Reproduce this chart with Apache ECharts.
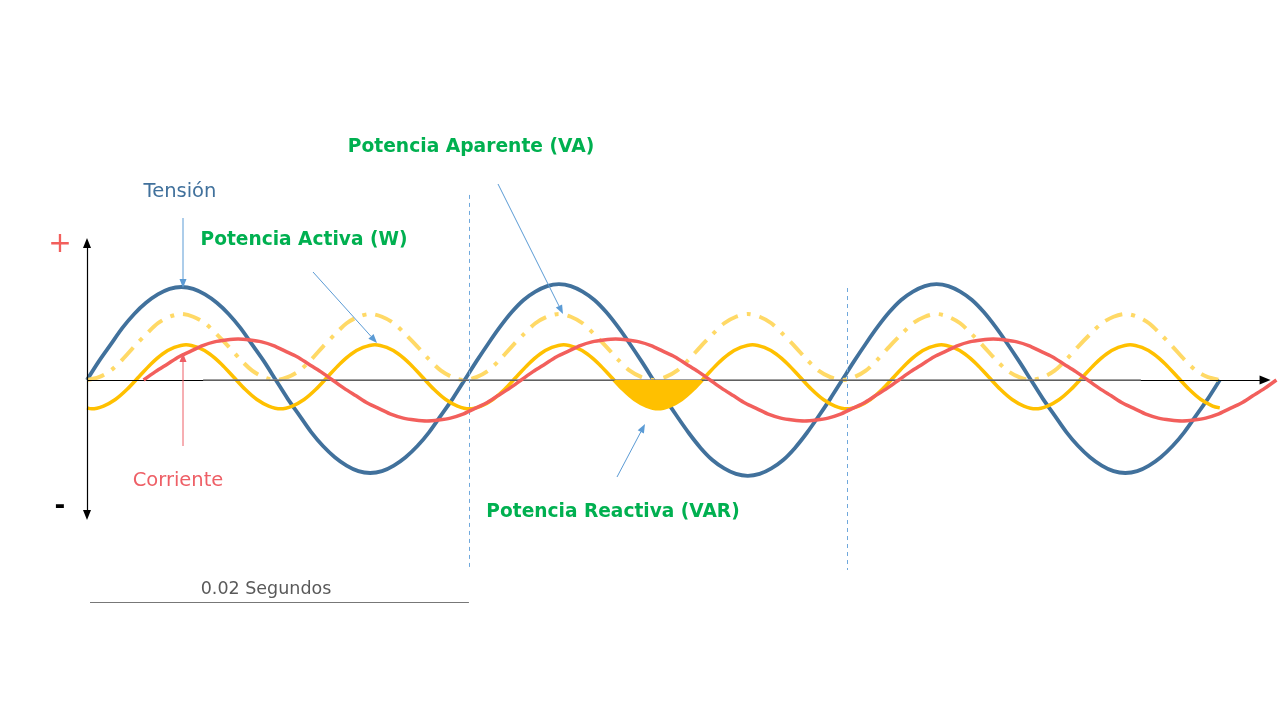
<!DOCTYPE html>
<html>
<head>
<meta charset="utf-8">
<script src="https://cdn.jsdelivr.net/npm/echarts@6/dist/echarts.min.js"></script>
<style>html,body{margin:0;padding:0;background:#fff;}#c{width:1280px;height:720px;}</style>
</head>
<body>
<div id="c"></div>
<script>
// ---- Data (time in ms, amplitudes in relative units) ----
const time = [
  0,0.625,1.25,1.875,2.5,3.125,3.75,4.375,5,5.625,6.25,6.875,7.5,8.125,8.75,9.375,
  10,10.625,11.25,11.875,12.5,13.125,13.75,14.375,15,15.625,16.25,16.875,17.5,18.125,18.75,19.375,
  20,20.625,21.25,21.875,22.5,23.125,23.75,24.375,25,25.625,26.25,26.875,27.5,28.125,28.75,29.375,
  30,30.625,31.25,31.875,32.5,33.125,33.75,34.375,35,35.625,36.25,36.875,37.5,38.125,38.75,39.375,
  40,40.625,41.25,41.875,42.5,43.125,43.75,44.375,45,45.625,46.25,46.875,47.5,48.125,48.75,49.375,
  50,50.625,51.25,51.875,52.5,53.125,53.75,54.375,55,55.625,56.25,56.875,57.5,58.125,58.75,59.375,
  60];
const tension = [
  0,0.2,0.38,0.56,0.71,0.83,0.92,0.98,1,0.98,0.92,0.83,0.71,0.56,0.38,0.2,
  0,-0.2,-0.38,-0.56,-0.71,-0.83,-0.92,-0.98,-1,-0.98,-0.92,-0.83,-0.71,-0.56,-0.38,-0.2,
  0,0.2,0.39,0.57,0.73,0.86,0.95,1.01,1.03,1.01,0.95,0.86,0.73,0.57,0.39,0.2,
  0,-0.2,-0.39,-0.57,-0.73,-0.86,-0.95,-1.01,-1.03,-1.01,-0.95,-0.86,-0.73,-0.57,-0.39,-0.2,
  0,0.2,0.39,0.57,0.73,0.86,0.95,1.01,1.03,1.01,0.95,0.86,0.73,0.57,0.39,0.2,
  0,-0.2,-0.38,-0.56,-0.71,-0.83,-0.92,-0.98,-1,-0.98,-0.92,-0.83,-0.71,-0.56,-0.38,-0.2,
  0];
const timeCurrent = [
  3,3.625,4.25,4.875,5.5,6.125,6.75,7.375,8,8.625,9.25,9.875,10.5,11.125,11.75,12.375,
  13,13.625,14.25,14.875,15.5,16.125,16.75,17.375,18,18.625,19.25,19.875,20.5,21.125,21.75,22.375,
  23,23.625,24.25,24.875,25.5,26.125,26.75,27.375,28,28.625,29.25,29.875,30.5,31.125,31.75,32.375,
  33,33.625,34.25,34.875,35.5,36.125,36.75,37.375,38,38.625,39.25,39.875,40.5,41.125,41.75,42.375,
  43,43.625,44.25,44.875,45.5,46.125,46.75,47.375,48,48.625,49.25,49.875,50.5,51.125,51.75,52.375,
  53,53.625,54.25,54.875,55.5,56.125,56.75,57.375,58,58.625,59.25,59.875,60.5,61.125,61.75,62.375,
  63];
const corriente = [
  0,0.09,0.17,0.25,0.31,0.37,0.41,0.43,0.44,0.43,0.41,0.37,0.31,0.25,0.17,0.09,
  0,-0.09,-0.17,-0.25,-0.31,-0.37,-0.41,-0.43,-0.44,-0.43,-0.41,-0.37,-0.31,-0.25,-0.17,-0.09,
  0,0.09,0.17,0.25,0.31,0.37,0.41,0.43,0.44,0.43,0.41,0.37,0.31,0.25,0.17,0.09,
  0,-0.09,-0.17,-0.25,-0.31,-0.37,-0.41,-0.43,-0.44,-0.43,-0.41,-0.37,-0.31,-0.25,-0.17,-0.09,
  0,0.09,0.17,0.25,0.31,0.37,0.41,0.43,0.44,0.43,0.41,0.37,0.31,0.25,0.17,0.09,
  0,-0.09,-0.17,-0.25,-0.31,-0.37,-0.41,-0.43,-0.44,-0.43,-0.41,-0.37,-0.31,-0.25,-0.17,-0.09,
  0];
const timeActive = [
  0,
  0.25,0.875,1.5,2.125,2.75,3.375,4,4.625,5.25,5.875,6.5,7.125,7.75,8.375,9,9.625,
  10.25,10.875,11.5,12.125,12.75,13.375,14,14.625,15.25,15.875,16.5,17.125,17.75,18.375,19,19.625,
  20.25,20.875,21.5,22.125,22.75,23.375,24,24.625,25.25,25.875,26.5,27.125,27.75,28.375,29,29.625,
  30.25,30.875,31.5,32.125,32.75,33.375,34,34.625,35.25,35.875,36.5,37.125,37.75,38.375,39,39.625,
  40.25,40.875,41.5,42.125,42.75,43.375,44,44.625,45.25,45.875,46.5,47.125,47.75,48.375,49,49.625,
  50.25,50.875,51.5,52.125,52.75,53.375,54,54.625,55.25,55.875,56.5,57.125,57.75,58.375,59,59.625,
  60];
const potenciaActiva = [
  -0.3,
  -0.31,-0.28,-0.21,-0.1,0.035,0.17,0.28,0.35,0.38,0.35,0.28,0.17,0.035,-0.1,-0.21,-0.28,
  -0.31,-0.28,-0.21,-0.1,0.035,0.17,0.28,0.35,0.38,0.35,0.28,0.17,0.035,-0.1,-0.21,-0.28,
  -0.31,-0.28,-0.21,-0.1,0.035,0.17,0.28,0.35,0.38,0.35,0.28,0.17,0.035,-0.1,-0.21,-0.28,
  -0.31,-0.28,-0.21,-0.1,0.035,0.17,0.28,0.35,0.38,0.35,0.28,0.17,0.035,-0.1,-0.21,-0.28,
  -0.31,-0.28,-0.21,-0.1,0.035,0.17,0.28,0.35,0.38,0.35,0.28,0.17,0.035,-0.1,-0.21,-0.28,
  -0.31,-0.28,-0.21,-0.1,0.035,0.17,0.28,0.35,0.38,0.35,0.28,0.17,0.035,-0.1,-0.21,-0.28,
  -0.3];
const potenciaAparente = [
  0,0.03,0.1,0.22,0.36,0.49,0.61,0.68,0.71,0.68,0.61,0.49,0.36,0.22,0.1,0.03,
  0,0.03,0.1,0.22,0.36,0.49,0.61,0.68,0.71,0.68,0.61,0.49,0.36,0.22,0.1,0.03,
  0,0.03,0.1,0.22,0.36,0.49,0.61,0.68,0.71,0.68,0.61,0.49,0.36,0.22,0.1,0.03,
  0,0.03,0.1,0.22,0.36,0.49,0.61,0.68,0.71,0.68,0.61,0.49,0.36,0.22,0.1,0.03,
  0,0.03,0.1,0.22,0.36,0.49,0.61,0.68,0.71,0.68,0.61,0.49,0.36,0.22,0.1,0.03,
  0,0.03,0.1,0.22,0.36,0.49,0.61,0.68,0.71,0.68,0.61,0.49,0.36,0.22,0.1,0.03,
  0];
const timeReactiva = [27.91,28.375,29,29.625,30.25,30.875,31.5,32.125,32.59];
const potenciaReactiva = [0,-0.1,-0.21,-0.28,-0.31,-0.28,-0.21,-0.1,0];

const pairs = (xs, ys) => xs.map((x, i) => [x, ys[i]]);

const chart = echarts.init(document.getElementById('c'), null, {renderer: 'canvas'});

const BLUE = '#41719C', RED = '#F25F5C', GOLD = '#FFC000', LIGHTGOLD = '#FFD966', GREEN = '#00B050', POINTER = '#5B9BD5';
const FONT = 'DejaVu Sans';

function arrow(x1, y1, x2, y2, color, len, wid) {
  const ang = Math.atan2(y2 - y1, x2 - x1);
  const bx = x2 - len * Math.cos(ang), by = y2 - len * Math.sin(ang);
  const nx = -Math.sin(ang) * wid / 2, ny = Math.cos(ang) * wid / 2;
  return [
    {type: 'line', shape: {x1: x1, y1: y1, x2: bx, y2: by}, style: {stroke: color, lineWidth: 1}, z: 100},
    {type: 'polygon', shape: {points: [[x2, y2], [bx + nx, by + ny], [bx - nx, by - ny]]}, style: {fill: color}, z: 100}
  ];
}
function text(t, x, y, color, size, weight) {
  return {type: 'text', x: x, y: y, z: 100,
    style: {text: t, fill: color, font: (weight || 'normal') + ' ' + size + 'px "' + FONT + '"', textAlign: 'center', textVerticalAlign: 'middle'}};
}

const graphics = [].concat(
  text('Tensión', 180, 192, BLUE, 19.5),
  text('Corriente', 178, 481, '#EE5F66', 19.5),
  text('Potencia Activa (W)', 304, 240, GREEN, 18.6, 'bold'),
  text('Potencia Aparente (VA)', 471, 147, GREEN, 18.7, 'bold'),
  text('Potencia Reactiva (VAR)', 613, 512, GREEN, 18.6, 'bold'),
  text('0.02 Segundos', 266, 589, '#595959', 17.5),
  text('+', 60, 245, '#F25F5C', 28),
  text('-', 60, 507, '#000000', 26, 'bold'),
  arrow(183, 218, 183, 288, POINTER, 9, 7),
  arrow(313, 272, 377, 343, POINTER, 9, 7),
  arrow(498, 184, 563, 314, POINTER, 9, 7),
  arrow(617, 477, 645, 424, POINTER, 9, 7),
  arrow(183, 446, 183, 353, '#EE5F66', 9, 7)
);

const option = {
  animation: false,
  backgroundColor: '#ffffff',
  grid: {left: 0, right: 0, top: 0, bottom: 0},
  xAxis: {type: 'value', min: -4.608, max: 63.19, show: false},
  yAxis: {type: 'value', min: -3.656, max: 4.086, show: false},
  series: [
    { // axes, reference lines
      type: 'line', data: [], silent: true, z: 1,
      markLine: {
        silent: true, animation: false, label: {show: false},
        data: [
          [{coord: [0, 0], symbol: 'none'}, {coord: [62.4, 0], symbol: 'triangle', symbolSize: [9, 11], symbolRotate: -90, lineStyle: {color: '#000', width: 1.2, type: 'solid'}}],
          [{coord: [0, -1.452], symbol: 'triangle', symbolSize: [8, 10], symbolRotate: 180}, {coord: [0, 1.473], symbol: 'triangle', symbolSize: [8, 10], lineStyle: {color: '#000', width: 1.2, type: 'solid'}}],
          [{coord: [6.15, 0], symbol: 'none'}, {coord: [55.82, 0], symbol: 'none', lineStyle: {color: '#808080', width: 1.6, type: 'solid'}}],
          [{coord: [20.23, 1.99], symbol: 'none'}, {coord: [20.23, -2.043], symbol: 'none', lineStyle: {color: '#6FA8DC', width: 1, type: [4, 4]}}],
          [{coord: [40.25, 0.989], symbol: 'none'}, {coord: [40.25, -2.043], symbol: 'none', lineStyle: {color: '#6FA8DC', width: 1, type: [4, 4]}}],
          [{coord: [0.16, -2.387], symbol: 'none'}, {coord: [20.23, -2.387], symbol: 'none', lineStyle: {color: '#777', width: 1, type: 'solid'}}]
        ],
        lineStyle: {color: '#000', width: 1, type: 'solid'}
      }
    },
    {name: 'Tensión', type: 'line', data: pairs(time, tension), smooth: 0.3, showSymbol: false, z: 2,
      lineStyle: {color: BLUE, width: 3.8}},
    {name: 'Potencia Aparente', type: 'line', data: pairs(time, potenciaAparente), smooth: 0.3, showSymbol: false, z: 3,
      lineStyle: {color: LIGHTGOLD, width: 4, type: [18, 9, 4, 9], cap: 'butt'}},
    {name: 'Potencia Activa', type: 'line', data: pairs(timeActive, potenciaActiva), smooth: 0.3, showSymbol: false, z: 4,
      lineStyle: {color: GOLD, width: 3.5}},
    {name: 'Corriente', type: 'line', data: pairs(timeCurrent, corriente), smooth: 0.3, showSymbol: false, z: 5,
      lineStyle: {color: RED, width: 3.5}},
    {name: 'Potencia Reactiva', type: 'line', data: pairs(timeReactiva, potenciaReactiva), smooth: 0.3, showSymbol: false, z: 6,
      lineStyle: {width: 0}, areaStyle: {color: GOLD, opacity: 1}}
  ],
  graphic: graphics
};
chart.setOption(option);
</script>
</body>
</html>
